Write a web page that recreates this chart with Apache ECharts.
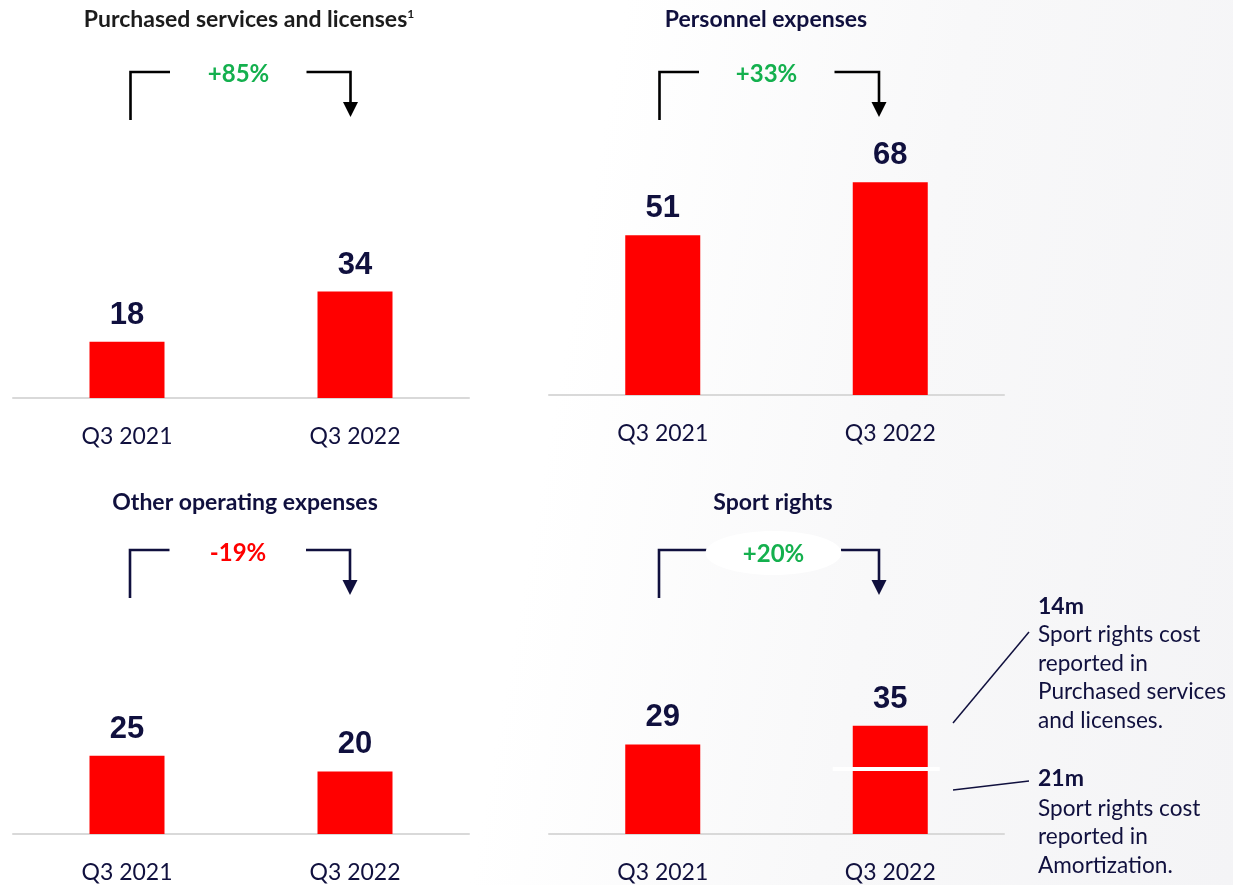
<!DOCTYPE html>
<html>
<head>
<meta charset="utf-8">
<script src="https://cdn.jsdelivr.net/npm/echarts@6/dist/echarts.min.js"></script>
<style>
  html, body { margin: 0; padding: 0; }
  body { background: linear-gradient(100deg, #ffffff 0%, #ffffff 45%, #f8f8f9 70%, #f4f4f6 100%); }
  #chart { width: 1233px; height: 885px; }
</style>
</head>
<body>
<div id="chart"></div>
<script>
// Quarter categories shared by all four panels
const categories = ['Q3 2021', 'Q3 2022'];

// Values per panel (EUR m)
const purchasedServices = [18, 34];
const personnelExpenses = [51, 68];
const otherOperating = [25, 20];
const sportRightsBase = [29, 21];     // Q3 2021 total; Q3 2022 amortization part
const sportRightsTop = ['-', 14];     // Q3 2022 part reported in purchased services

// Panel headings and year-on-year changes
const panelTitles = ['Purchased services and licenses', 'Personnel expenses', 'Other operating expenses', 'Sport rights'];
const changes = ['+85%', '+33%', '-19%', '+20%'];

const NAVY = '#10103e';
const RED = '#ff0000';
const GREEN = '#14b04e';
const AXIS = '#d9d9d9';
const BAR_W = 75;

const grids = [
  { left: 13, width: 456, top: 85, height: 313 },
  { left: 549, width: 455, top: 82, height: 313 },
  { left: 13, width: 456, top: 521, height: 313 },
  { left: 549, width: 455, top: 525, height: 309 }
];

const valueLabel = {
  show: true,
  position: 'top',
  distance: 11,
  color: NAVY,
  fontFamily: 'Liberation Sans',
  fontWeight: 'bold',
  fontSize: 31,
  lineHeight: 31
};

function xAxisFor(i) {
  return {
    type: 'category', gridIndex: i, data: categories,
    axisLine: { lineStyle: { color: AXIS, width: 2 } },
    axisTick: { show: false },
    axisLabel: { color: NAVY, fontFamily: 'Lato', fontSize: 23, lineHeight: 23, margin: 27 }
  };
}
function yAxisFor(i) {
  return { type: 'value', gridIndex: i, min: 0, max: 100, show: false, splitLine: { show: false } };
}
function simpleBar(i, data) {
  return {
    type: 'bar', xAxisIndex: i, yAxisIndex: i, data: data, barWidth: BAR_W,
    itemStyle: { color: RED }, label: valueLabel, silent: true
  };
}

// Bracket with arrow connecting the two quarters
function bracket(xl, xr, yTop, yLeftEnd, yTip, leftSegEnd, rightSegStart, color) {
  const lw = 2.6;
  return [
    { type: 'polyline', shape: { points: [[xl, yLeftEnd], [xl, yTop], [leftSegEnd, yTop]] }, style: { stroke: color, lineWidth: lw, fill: null } },
    { type: 'polyline', shape: { points: [[rightSegStart, yTop], [xr, yTop], [xr, yTip - 14]] }, style: { stroke: color, lineWidth: lw, fill: null } },
    { type: 'polygon', shape: { points: [[xr - 7.5, yTip - 15], [xr + 7.5, yTip - 15], [xr, yTip]] }, style: { fill: color } }
  ];
}
function heading(x, y, text, color) {
  return { type: 'text', x: x, y: y, style: { text: text, textAlign: 'center', textVerticalAlign: 'middle', fill: color, font: 'bold 23px Lato' } };
}
function changeText(x, y, text, color) {
  return { type: 'text', x: x, y: y, z: 10, style: { text: text, textAlign: 'center', textVerticalAlign: 'middle', fill: color, font: 'bold 24px Lato' } };
}

const graphics = [
  {
    type: 'text', x: 249, y: 20,
    style: {
      text: '{t|' + panelTitles[0] + '}{s|1}', textAlign: 'center', textVerticalAlign: 'middle',
      rich: {
        t: { fill: '#1c1c1c', font: 'bold 23px Lato' },
        s: { fill: '#1c1c1c', font: 'bold 12px Lato', verticalAlign: 'top', padding: [0, 0, 12, 0] }
      }
    }
  },
  heading(766, 20, panelTitles[1], NAVY),
  heading(245, 503, panelTitles[2], NAVY),
  heading(773, 503, panelTitles[3], NAVY),

  ...bracket(130.5, 350.5, 72, 120, 117, 170, 306.5, '#000000'),
  ...bracket(659.5, 879, 72, 120, 117, 699, 834.5, '#000000'),
  ...bracket(130, 350, 550, 598, 595, 169.5, 306, NAVY),
  ...bracket(659, 879, 550, 598, 595, 706.5, 841, NAVY),

  { type: 'ellipse', shape: { cx: 773.5, cy: 553, rx: 68, ry: 22 }, style: { fill: '#ffffff' }, z: 5 },

  changeText(238.5, 74, changes[0], GREEN),
  changeText(766.5, 74, changes[1], GREEN),
  changeText(238, 553, changes[2], RED),
  changeText(773.5, 554, changes[3], GREEN),

  // leader lines to the split annotations
  { type: 'line', shape: { x1: 953, y1: 723, x2: 1029, y2: 632 }, style: { stroke: NAVY, lineWidth: 1.5 } },
  { type: 'line', shape: { x1: 953, y1: 790, x2: 1029, y2: 781 }, style: { stroke: NAVY, lineWidth: 1.5 } },

  {
    type: 'text', x: 1038, y: 592,
    style: {
      text: '{b|' + sportRightsTop[1] + 'm}\n{r|Sport rights cost}\n{r|reported in}\n{r|Purchased services}\n{r|and licenses.}',
      rich: {
        b: { fill: NAVY, font: 'bold 23px Lato', lineHeight: 28.5 },
        r: { fill: NAVY, font: '22.6px Lato', lineHeight: 28.5 }
      }
    }
  },
  {
    type: 'text', x: 1038, y: 764,
    style: {
      text: '{b|' + sportRightsBase[1] + 'm}\n{r|Sport rights cost}\n{r|reported in}\n{r|Amortization.}',
      rich: {
        b: { fill: NAVY, font: 'bold 23px Lato', lineHeight: 30 },
        r: { fill: NAVY, font: '22.6px Lato', lineHeight: 28.5 }
      }
    }
  }
];

const chart = echarts.init(document.getElementById('chart'), null, { renderer: 'canvas' });

chart.setOption({
  animation: false,
  grid: grids,
  xAxis: [0, 1, 2, 3].map(xAxisFor),
  yAxis: [0, 1, 2, 3].map(yAxisFor),
  series: [
    simpleBar(0, purchasedServices),
    simpleBar(1, personnelExpenses),
    simpleBar(2, otherOperating),
    {
      type: 'bar', xAxisIndex: 3, yAxisIndex: 3, stack: 'sport', barWidth: BAR_W, silent: true,
      itemStyle: { color: RED },
      data: sportRightsBase.map((v, i) => ({ value: v, label: Object.assign({}, valueLabel, { show: i === 0 }) }))
    },
    {
      type: 'bar', xAxisIndex: 3, yAxisIndex: 3, stack: 'sport', barWidth: BAR_W, silent: true,
      itemStyle: { color: RED },
      data: sportRightsTop,
      label: Object.assign({}, valueLabel, {
        formatter: (p) => String(sportRightsBase[p.dataIndex] + sportRightsTop[p.dataIndex])
      })
    },
    {
      // white divider between the two parts of the stacked bar
      type: 'custom', xAxisIndex: 3, yAxisIndex: 3, silent: true, z: 5,
      data: [[1, sportRightsBase[1]]],
      renderItem: function (params, api) {
        const p = api.coord([api.value(0), api.value(1)]);
        return {
          type: 'line',
          shape: { x1: p[0] - BAR_W / 2 - 20, y1: p[1], x2: p[0] + BAR_W / 2 + 12, y2: p[1] },
          style: { stroke: '#ffffff', lineWidth: 4 }
        };
      }
    }
  ],
  graphic: graphics
});
</script>
</body>
</html>
